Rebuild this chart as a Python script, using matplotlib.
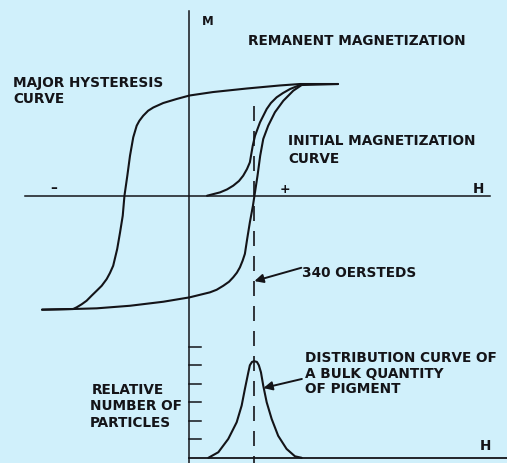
import matplotlib.pyplot as plt

# field H in oersteds, magnetization M relative to saturation
upper_h = [777, 578, 473, 301, 123, 0, -67, -137, -189, -216, -242, -262, -276,
           -294, -311, -325, -340, -349, -363, -378, -399, -416, -433, -459, -485,
           -512, -538, -564, -590, -608, -771]
upper_m = [1.0, 1.0, 0.987, 0.96, 0.928, 0.897, 0.866, 0.83, 0.79, 0.761, 0.716,
           0.671, 0.627, 0.523, 0.358, 0.179, 0.0, -0.179, -0.328, -0.477, -0.627,
           -0.692, -0.746, -0.806, -0.85, -0.895, -0.94, -0.972, -0.999, -1.014,
           -1.02]

lower_h = [-771, -608, -485, -311, -137, 0, 107, 142, 177, 207, 229, 248, 264,
           278, 290, 302, 316, 332, 340, 356, 370, 386, 412, 447, 491, 543, 587, 777]
lower_m = [-1.02, -1.014, -1.008, -0.985, -0.949, -0.91, -0.865, -0.842, -0.806,
           -0.77, -0.73, -0.689, -0.641, -0.582, -0.52, -0.386, -0.238, -0.09, 0.0,
           0.179, 0.358, 0.508, 0.627, 0.747, 0.85, 0.94, 0.991, 1.0]

initial_h = [92, 160, 196, 229, 259, 281, 301, 316, 331, 343, 369, 404, 426, 456,
             489, 526, 578]
initial_m = [0.0, 0.03, 0.056, 0.09, 0.132, 0.179, 0.239, 0.299, 0.448, 0.537,
             0.657, 0.776, 0.83, 0.881, 0.919, 0.955, 0.991]

# particle count vs switching field
dist_h = [99, 151, 203, 247, 273, 290, 308, 316, 327, 339, 353, 363, 374, 386,
          404, 430, 464, 508, 552, 587]
dist_n = [0.0, 0.3, 1.02, 1.92, 2.82, 3.72, 4.62, 5.0, 5.18, 5.22, 5.18, 5.0,
          4.62, 3.9, 3.0, 2.1, 1.19, 0.48, 0.08, 0.0]
count_ticks = [1, 2, 3, 4, 5, 6]

coercivity = 340

bg = '#d0f0fb'
ink = '#141418'
font = dict(family='DejaVu Sans', fontweight='bold', color=ink, fontsize=9.8)

fig = plt.figure(figsize=(5.07, 4.64), dpi=100, facecolor=bg)
top = fig.add_axes([0, 0.2888, 1, 0.7112])
bot = fig.add_axes([0, 0, 1, 0.2888])
for ax in (top, bot):
    ax.set_xlim(-991, 1661)
    ax.axis('off')
    ax.set_facecolor(bg)
top.set_ylim(-1.193, 1.761)
bot.set_ylim(-0.281, 6.96)

# axes drawn by hand
top.plot([-860, 1572], [0, 0], color=ink, lw=1.1)
top.plot([0, 0], [1.654, -2.393], color=ink, lw=1.1, clip_on=False)
top.plot([coercivity, coercivity], [0.80, -2.393], color=ink, lw=1.2,
         ls=(0, (9, 6)), clip_on=False)
bot.plot([0, 1661], [0, 0], color=ink, lw=1.3)
for t in count_ticks:
    bot.plot([0, 60], [t, t], color=ink, lw=1.1)

# hysteresis loop and initial curve
line = dict(color=ink, lw=1.5, solid_joinstyle='round', solid_capstyle='round')
top.plot(upper_h, upper_m, **line)
top.plot(lower_h, lower_m, **line)
top.plot(initial_h, initial_m, **line)
bot.plot(dist_h, dist_n, **line)

# labels
top.text(65, 1.537, 'M', **{**font, 'fontsize': 8.5})
top.text(306, 1.358, 'REMANENT MAGNETIZATION', **font)
top.text(-923, 0.985, 'MAJOR HYSTERESIS', **font)
top.text(-923, 0.836, 'CURVE', **font)
top.text(515, 0.463, 'INITIAL MAGNETIZATION', **font)
top.text(515, 0.299, 'CURVE', **font)
top.text(1483, 0.033, 'H', **font)
top.text(499, 0.069, '+', ha='center', va='center', **{**font, 'fontsize': 9})
top.text(-709, 0.078, '\u2013', ha='center', va='center', **font)
top.text(588, -0.719, '340 OERSTEDS', **font)
top.annotate('', xy=(coercivity, -0.764), xytext=(585, -0.645),
             arrowprops=dict(arrowstyle='-|>', color=ink, lw=1.4,
                             mutation_scale=13, shrinkA=0, shrinkB=0))

bot.text(604, 5.23, 'DISTRIBUTION CURVE OF', **font)
bot.text(604, 4.39, 'A BULK QUANTITY', **font)
bot.text(604, 3.53, 'OF PIGMENT', **font)
bot.text(-510, 3.52, 'RELATIVE', **font)
bot.text(-520, 2.62, 'NUMBER OF', **font)
bot.text(-520, 1.72, 'PARTICLES', **font)
bot.text(1520, 0.48, 'H', **font)
bot.annotate('', xy=(387, 3.77), xytext=(588, 4.26),
             arrowprops=dict(arrowstyle='-|>', color=ink, lw=1.4,
                             mutation_scale=13, shrinkA=0, shrinkB=0))

fig.savefig('out.png', dpi=100, facecolor=bg)
